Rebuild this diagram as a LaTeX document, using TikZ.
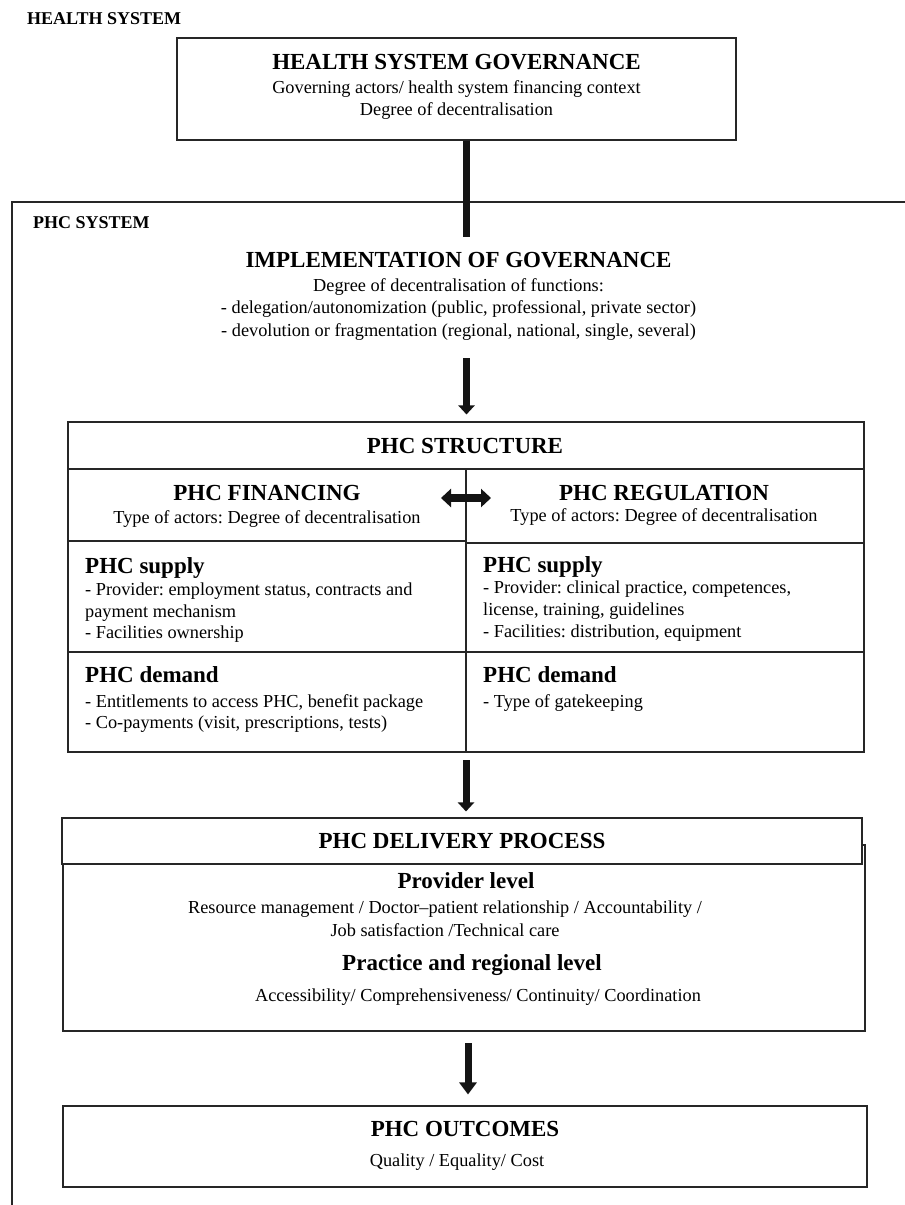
\documentclass[tikz,border=0pt]{standalone}
\usepackage{fontspec}
\setmainfont{Liberation Serif}
\usetikzlibrary{arrows.meta}
\frenchspacing
\begin{document}
\frenchspacing
\begin{tikzpicture}[x=1pt,y=-1pt,
  box/.style={draw=black!85, line width=1.1pt, inner sep=0pt},
  grid/.style={draw=black!85, line width=1.1pt},
  ttl/.style={font=\fontsize{23}{27}\selectfont\bfseries, anchor=base, inner sep=0pt},
  subttl/.style={ttl, anchor=base west},
  lbl/.style={font=\fontsize{18}{22}\selectfont\bfseries, anchor=base west, inner sep=0pt},
  txt/.style={font=\fontsize{18.3}{22}\selectfont, anchor=base, inner sep=0pt},
  txtl/.style={txt, anchor=base west},
  thickline/.style={draw=black!92, line width=7pt},
  bigarrow/.style={draw=black!92, fill=black!92, line width=7pt, -{Triangle[width=16pt,length=9pt]}},
  biggerarrow/.style={draw=black!92, fill=black!92, line width=7pt, -{Triangle[width=17pt,length=12pt]}},
  dblarrow/.style={draw=black!92, fill=black!92, line width=8pt, {Triangle[width=18pt,length=10pt]}-{Triangle[width=18pt,length=10pt]}}]
\useasboundingbox (0,0) rectangle (905,1205);
\fill[white] (0,0) rectangle (905,1205);

% labels
\node[lbl] (lblhs) at (27,24) {HEALTH SYSTEM};

% health system governance
\node[box, minimum width=559pt, minimum height=102pt] (hsg) at (456.5,89) {};
\node[ttl] (hsgt) at (456.5,69) {HEALTH SYSTEM GOVERNANCE};
\node[txt] (hsg1) at (456.5,93) {Governing actors/ health system financing context};
\node[txt] (hsg2) at (456.5,115) {Degree of decentralisation};

% PHC system frame
\draw[grid] (905,202) -- (12,202) -- (12,1205);
\node[lbl] (lblphc) at (33,228) {PHC SYSTEM};

% implementation
\node[ttl] (impl) at (458.5,267) {IMPLEMENTATION OF GOVERNANCE};
\node[txt] (impl1) at (458.5,291) {Degree of decentralisation of functions:};
\node[txt] (impl2) at (458.5,313) {- delegation/autonomization (public, professional, private sector)};
\node[txt] (impl3) at (458.5,336) {- devolution or fragmentation (regional, national, single, several)};

\coordinate (c1) at (466.5,237);
\draw[thickline] (hsg.south -| c1) -- (c1);

% PHC structure
\node[box, minimum width=796pt, minimum height=330pt] (struct) at (466,587) {};
\draw[grid] (68,469) -- (864,469);
\draw[grid] (466,469) -- (466,752);
\draw[grid] (68,541) -- (466,541);
\draw[grid] (466,543) -- (864,543);
\draw[grid] (68,652) -- (864,652);

\coordinate (a1s) at (466.5,358);
\draw[bigarrow] (a1s) -- ([yshift=7pt]struct.north -| a1s);

\node[ttl] (structt) at (465,453) {PHC STRUCTURE};
\node[ttl] (fin) at (267,500) {PHC FINANCING};
\node[txt] (fin1) at (267,523) {Type of actors: Degree of decentralisation};
\node[ttl] (reg) at (664,500) {PHC REGULATION};
\node[txt] (reg1) at (664,521) {Type of actors: Degree of decentralisation};

\coordinate (dl) at (441,498);
\coordinate (dr) at (491,498);
\draw[dblarrow] (dl) -- (dr);

\node[subttl] (lsup) at (85,573) {PHC supply};
\node[txtl] (lsup1) at (85,595) {- Provider: employment status, contracts and};
\node[txtl] (lsup2) at (85,617) {payment mechanism};
\node[txtl] (lsup3) at (85,638) {- Facilities ownership};
\node[subttl] (rsup) at (483,572) {PHC supply};
\node[txtl] (rsup1) at (483,593) {- Provider: clinical practice, competences,};
\node[txtl] (rsup2) at (483,615) {license, training, guidelines};
\node[txtl] (rsup3) at (483,637) {- Facilities: distribution, equipment};

\node[subttl] (ldem) at (85,682) {PHC demand};
\node[txtl] (ldem1) at (85,707) {- Entitlements to access PHC, benefit package};
\node[txtl] (ldem2) at (85,728) {- Co-payments (visit, prescriptions, tests)};
\node[subttl] (rdem) at (483,682) {PHC demand};
\node[txtl] (rdem1) at (483,707) {- Type of gatekeeping};

% delivery process
\node[box, line width=1.6pt, minimum width=802pt, minimum height=186pt] (deliv) at (464,938) {};
\node[box, fill=white, minimum width=800pt, minimum height=46pt] (delivt) at (462,841) {};
\coordinate (a2s) at (466,760);
\draw[bigarrow] (a2s) -- ([yshift=6pt]delivt.north -| a2s);

\node[ttl] (delivtt) at (462,848) {PHC DELIVERY PROCESS};
\node[ttl] (prov) at (466,888) {Provider level};
\node[txt] (prov1) at (445,913) {Resource management / Doctor–patient relationship / Accountability /};
\node[txt] (prov2) at (445,936) {Job satisfaction /Technical care};
\node[ttl] (prac) at (472,970) {Practice and regional level};
\node[txt] (prac1) at (478,1001) {Accessibility/ Comprehensiveness/ Continuity/ Coordination};

% outcomes
\node[box, minimum width=804pt, minimum height=81pt] (outc) at (465,1146.5) {};
\coordinate (a3s) at (468,1043);
\draw[biggerarrow] (a3s) -- ([yshift=11pt]outc.north -| a3s);
\node[ttl] (outct) at (465,1136) {PHC OUTCOMES};
\node[txt] (outc1) at (457,1166) {Quality / Equality/ Cost};
\end{tikzpicture}
\end{document}
